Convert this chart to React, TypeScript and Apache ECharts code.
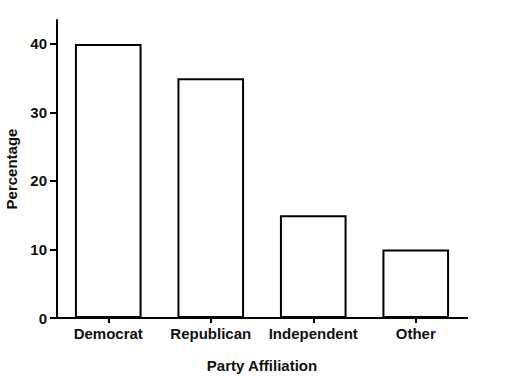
import React, { useEffect, useRef } from "react";
import * as echarts from "echarts";

const categories = ["Democrat", "Republican", "Independent", "Other"];
const percentages = [40, 35, 15, 10];

const FONT = "'Liberation Sans', Arial, Helvetica, sans-serif";

export default function App() {
  const ref = useRef<HTMLDivElement>(null);
  useEffect(() => {
    if (!ref.current) return;
    const chart = echarts.init(ref.current, null, { renderer: "svg" });
    chart.setOption({
      animation: false,
      backgroundColor: "#ffffff",
      grid: { left: 57, right: 40, top: 20, bottom: 62, outerBoundsMode: "none", containLabel: false },
      xAxis: [
        {
          type: "category",
          data: categories,
          name: "Party Affiliation",
          nameLocation: "middle",
          nameGap: 40,
          nameTextStyle: { fontFamily: FONT, fontWeight: "bold", fontSize: 15, color: "#111" },
          axisLine: { show: true, lineStyle: { color: "#000", width: 2 } },
          axisTick: { show: false },
          axisLabel: { interval: 0, fontFamily: FONT, fontWeight: "bold", fontSize: 15, color: "#111", margin: 8 },
          splitLine: { show: false },
        },
        {
          // helper axis in category-band units: minor ticks land on each band's centre
          type: "value",
          position: "bottom",
          min: 0,
          max: categories.length,
          interval: 1,
          axisLine: { show: true, lineStyle: { color: "#000", width: 2 } },
          axisTick: { show: false },
          axisLabel: { show: false },
          minorTick: { show: true, splitNumber: 2, length: 5, lineStyle: { color: "#000", width: 2 } },
          splitLine: { show: false },
          minorSplitLine: { show: false },
        },
      ],
      yAxis: {
        type: "value",
        min: 0,
        max: 43.5,
        interval: 10,
        name: "Percentage",
        nameLocation: "middle",
        nameGap: 38,
        nameRotate: 90,
        nameTextStyle: { fontFamily: FONT, fontWeight: "bold", fontSize: 15, color: "#111" },
        axisLine: { show: true, lineStyle: { color: "#000", width: 2 } },
        axisTick: { show: true, length: 7, lineStyle: { color: "#000", width: 2 } },
        axisLabel: {
          showMaxLabel: false,
          formatter: (v: number) => (v % 10 === 0 ? String(v) : ""),
          fontFamily: FONT, fontWeight: "bold", fontSize: 15, color: "#111", margin: 10,
        },
        splitLine: { show: false },
      },
      series: [
        {
          type: "bar",
          xAxisIndex: 0,
          data: percentages,
          barCategoryGap: "35%",
          itemStyle: { color: "#ffffff", borderColor: "#000", borderWidth: 2 },
        },
      ],
    });
    return () => chart.dispose();
  }, []);
  return (
    <div
      ref={ref}
      style={{ position: "absolute", left: 0, top: 0, width: 507, height: 380 }}
    />
  );
}
